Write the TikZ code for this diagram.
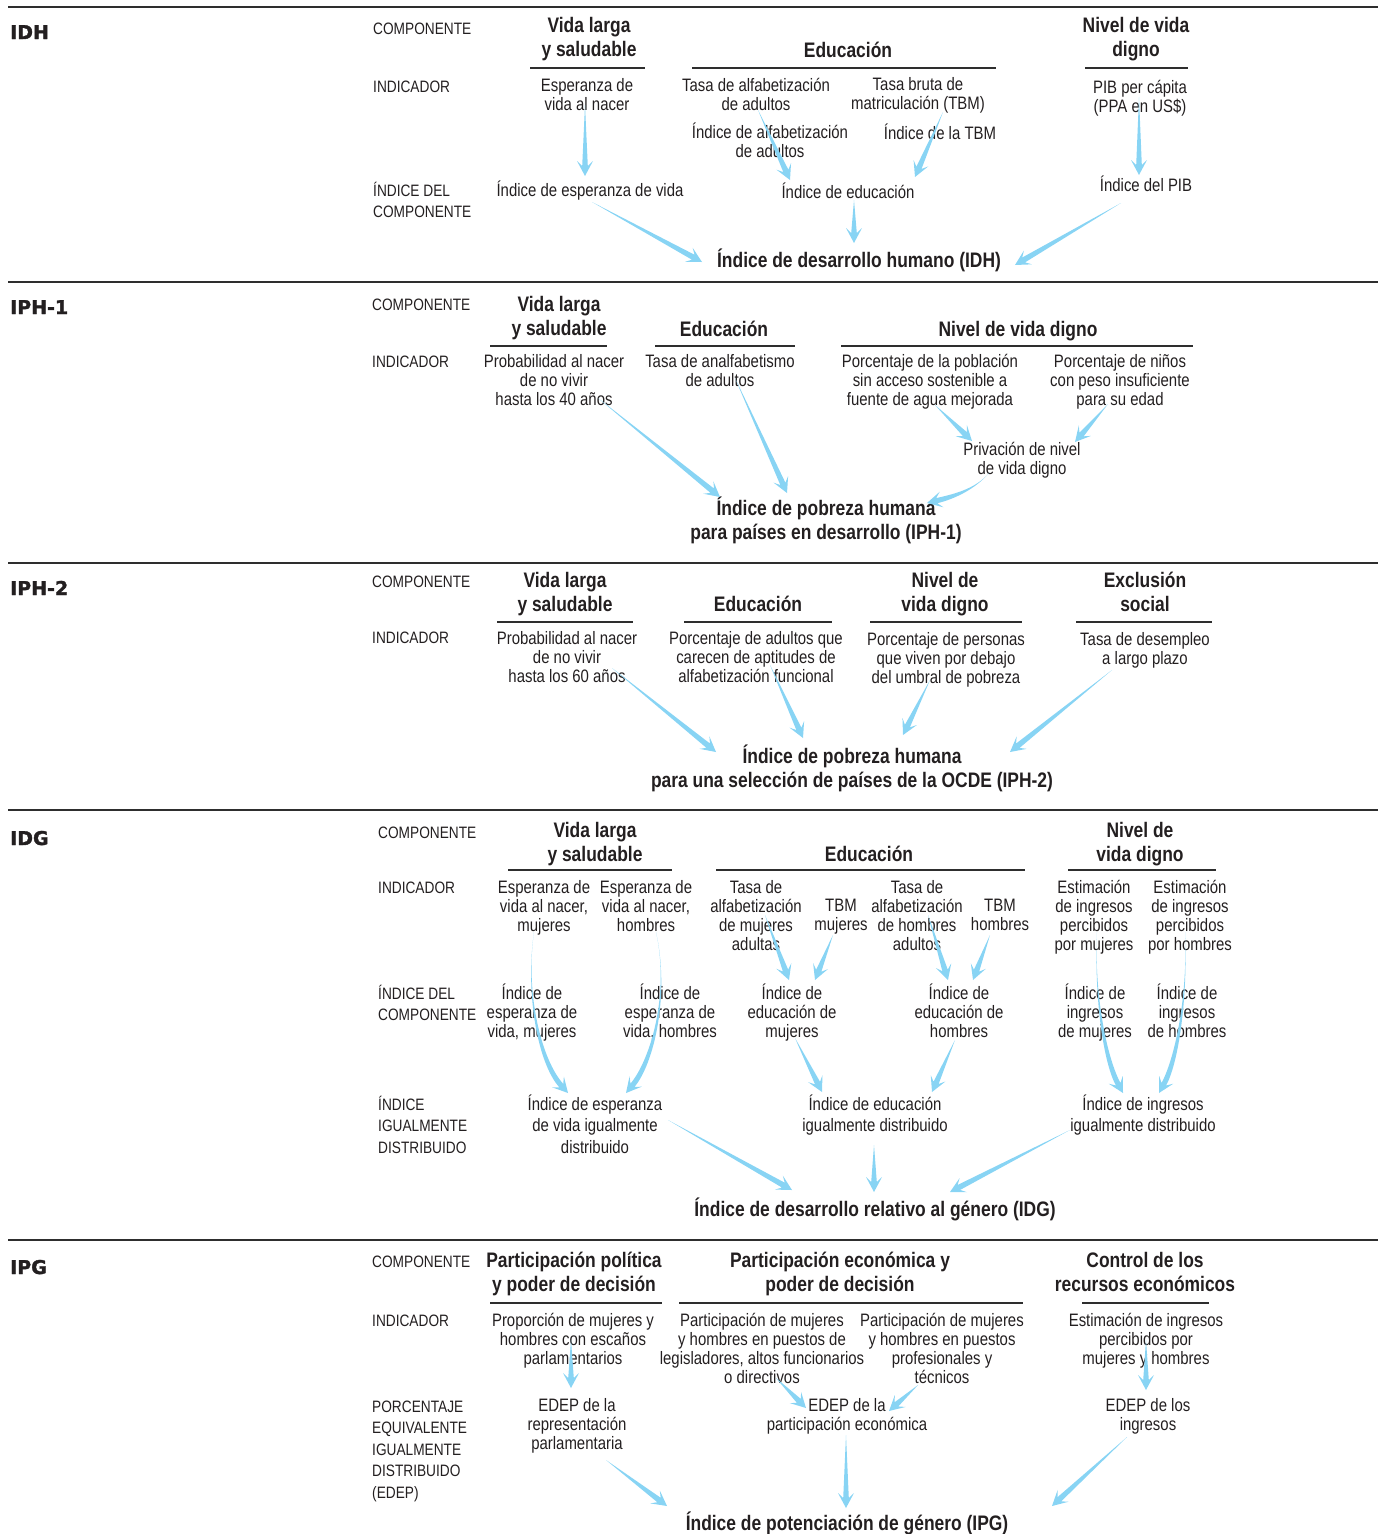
\documentclass[tikz,border=0pt]{standalone}
\usepackage{fontspec}
\setmainfont{Liberation Sans}[FakeStretch=0.83]
\newfontfamily\heavyfont{DejaVu Sans}[BoldFeatures={FakeBold=1.6}]
\usetikzlibrary{calc}
\definecolor{ink}{HTML}{231F20}
\definecolor{rulegray}{HTML}{2E2E2E}
\definecolor{arrowblue}{HTML}{88D4F4}
\newcommand\txtsize{\fontsize{18}{19}\selectfont}
\newcommand\hdrsize{\fontsize{21}{24}\selectfont\bfseries}
\newcommand\lblsize{\fontsize{16.5}{21.5}\selectfont}
\tikzset{
  sec/.style={anchor=base west, inner sep=0, text=ink, font=\heavyfont\bfseries\fontsize{19}{19}\selectfont},
  lbl/.style={anchor=base west, inner sep=0, align=left, text=ink, font=\lblsize},
  hdr/.style={anchor=base, inner sep=0, align=center, text=ink, font=\hdrsize},
  txt/.style={anchor=base, inner sep=0, align=center, text=ink, font=\txtsize},
  bigrule/.style={rulegray, line width=2.8pt},
  hrule/.style={rulegray, line width=1.2pt},
  flow/.style={fill=arrowblue, to path={(\tikztotarget) coordinate (ft) (\tikztostart) coordinate (fs)
    ($(ft)!10pt!(fs)$) coordinate (fh) ($(ft)!15pt!(fs)$) coordinate (fb)
    (fs) -- ($(fh)!2.8pt!90:(fs)$) -- ($(fb)!8pt!90:(fs)$) -- (ft)
    -- ($(fb)!8pt!-90:(fs)$) -- ($(fh)!2.8pt!-90:(fs)$) -- cycle}},
  cflow/.style 2 args={fill=arrowblue, to path={(\tikztotarget) coordinate (ft) (\tikztostart) coordinate (fs)
    ($(ft)!10pt!(#2)$) coordinate (fh) ($(ft)!15pt!(#2)$) coordinate (fb)
    (fs) .. controls (#1) and ($(#2)!2.6pt!-90:(ft)$) .. ($(fh)!2.6pt!90:(#2)$)
    -- ($(fb)!8pt!90:(#2)$) -- (ft) -- ($(fb)!8pt!-90:(#2)$) -- ($(fh)!2.6pt!-90:(#2)$)
    .. controls ($(#2)!2.6pt!90:(ft)$) and (#1) .. (fs) -- cycle}},
}
\begin{document}
\begin{tikzpicture}[x=1pt,y=-1pt]
\useasboundingbox (0,0) rectangle (1378,1534);

\draw[bigrule] (8,7) -- (1378,7);
\node[sec] (sIDH) at (10,39) {IDH};
\node[lbl] (lCompA) at (373,34) {COMPONENTE};
\node[lbl] (lIndA) at (373,92) {INDICADOR};
\node[lbl] (lIdxA) at (373,217.5) {ÍNDICE DEL\\COMPONENTE};
\node[hdr] (cVidaA) at (589,56) {Vida larga\\y saludable};
\node[hdr] (cEduA) at (848,57) {Educación};
\node[hdr] (cNivA) at (1136,56) {Nivel de vida\\digno};
\draw[hrule] (530,68) -- (645,68);
\draw[hrule] (692,68) -- (996,68);
\draw[hrule] (1085,68) -- (1188,68);
\node[txt] (iEspA) at (587,110) {Esperanza de\\vida al nacer};
\node[txt] (iAlfA) at (756,110) {Tasa de alfabetización\\de adultos};
\node[txt] (iTbmA) at (918,109) {Tasa bruta de\\matriculación (TBM)};
\node[txt] (iPibA) at (1140,112) {PIB per cápita\\(PPA en US\$)};
\node[txt] (xAlfA) at (770,157) {Índice de alfabetización\\de adultos};
\node[txt] (xTbmA) at (940,139) {Índice de la TBM};
\node[txt] (xEspA) at (590,196) {Índice de esperanza de vida};
\node[txt] (xEduA) at (848,198) {Índice de educación};
\node[txt] (xPibA) at (1146,191) {Índice del PIB};
\node[hdr] (rIDH) at (859,267) {Índice de desarrollo humano (IDH)};
\fill[flow] ($(iEspA.base)+(-2,-5)$) to ($(xEspA.base)+(-5,-20)$);
\fill[flow] ($(iAlfA.base)+(2,0)$) to ($(xEduA.base)+(-58,-18)$);
\fill[flow] ($(iTbmA.base)+(25,3)$) to ($(xEduA.base)+(67,-21)$);
\fill[flow] ($(xEduA.base)+(6,2)$) to ($(rIDH.base)+(-5,-24)$);
\fill[flow] ($(iPibA.base)+(-1,-15)$) to ($(xPibA.base)+(-7,-16)$);
\fill[flow] ($(xEspA.base)+(2,6)$) to ($(rIDH.base)+(-157,-5)$);
\fill[flow] ($(xPibA.base)+(-25,12)$) to ($(rIDH.base)+(156,-2)$);

\draw[bigrule] (8,282) -- (1378,282);
\node[sec] (sIPH1) at (10,314) {IPH-1};
\node[lbl] (lCompB) at (372,310) {COMPONENTE};
\node[lbl] (lIndB) at (372,367) {INDICADOR};
\node[hdr] (cVidaB) at (559,335) {Vida larga\\y saludable};
\node[hdr] (cEduB) at (724,336) {Educación};
\node[hdr] (cNivB) at (1018,336) {Nivel de vida digno};
\draw[hrule] (490,346) -- (607,346);
\draw[hrule] (655,346) -- (795,346);
\draw[hrule] (841,346) -- (1193,346);
\node[txt] (iProbB) at (554,405) {Probabilidad al nacer\\de no vivir\\hasta los 40 años};
\node[txt] (iAnaB) at (720,386) {Tasa de analfabetismo\\de adultos};
\node[txt] (iAguaB) at (930,405) {Porcentaje de la población\\sin acceso sostenible a\\fuente de agua mejorada};
\node[txt] (iNinB) at (1120,405) {Porcentaje de niños\\con peso insuficiente\\para su edad};
\node[txt] (xPrivB) at (1022,474) {Privación de nivel\\de vida digno};
\node[hdr] (rIPH1) at (826,539) {Índice de pobreza humana\\para países en desarrollo (IPH-1)};
\fill[flow] ($(iProbB.base)+(44,-7)$) to ($(rIPH1.base)+(-106,-42)$);
\fill[flow] ($(iAnaB.base)+(15,-8)$) to ($(rIPH1.base)+(-39,-46)$);
\fill[flow] ($(iAguaB.base)+(5,0)$) to ($(xPrivB.base)+(-50,-33)$);
\fill[flow] ($(iNinB.base)+(-12,-1)$) to ($(xPrivB.base)+(53,-32)$);
\fill[cflow={975,490}{952,497}] ($(xPrivB.base)+(-32,-2)$) to ($(rIPH1.base)+(101,-36)$);

\draw[bigrule] (8,563) -- (1378,563);
\node[sec] (sIPH2) at (10,595) {IPH-2};
\node[lbl] (lCompC) at (372,587) {COMPONENTE};
\node[lbl] (lIndC) at (372,643) {INDICADOR};
\node[hdr] (cVidaC) at (565,611) {Vida larga\\y saludable};
\node[hdr] (cEduC) at (758,611) {Educación};
\node[hdr] (cNivC) at (945,611) {Nivel de\\vida digno};
\node[hdr] (cExcC) at (1145,611) {Exclusión\\social};
\draw[hrule] (497,622) -- (633,622);
\draw[hrule] (684,622) -- (832,622);
\draw[hrule] (870,622) -- (1022,622);
\draw[hrule] (1076,622) -- (1212,622);
\node[txt] (iProbC) at (567,682) {Probabilidad al nacer\\de no vivir\\hasta los 60 años};
\node[txt] (iAdulC) at (756,682) {Porcentaje de adultos que\\carecen de aptitudes de\\alfabetización funcional};
\node[txt] (iPersC) at (946,683) {Porcentaje de personas\\que viven por debajo\\del umbral de pobreza};
\node[txt] (iDesC) at (1145,664) {Tasa de desempleo\\a largo plazo};
\node[hdr] (rIPH2) at (852,787) {Índice de pobreza humana\\para una selección de países de la OCDE (IPH-2)};
\fill[flow] ($(iProbC.base)+(45,-14)$) to ($(rIPH2.base)+(-136,-35)$);
\fill[flow] ($(iAdulC.base)+(14,-17)$) to ($(rIPH2.base)+(-49,-49)$);
\fill[flow] ($(iPersC.base)+(-16,-3)$) to ($(rIPH2.base)+(51,-52)$);
\fill[flow] ($(iDesC.base)+(-33,6)$) to ($(rIPH2.base)+(158,-35)$);

\draw[bigrule] (8,810) -- (1378,810);
\node[sec] (sIDG) at (10,845) {IDG};
\node[lbl] (lCompD) at (378,838) {COMPONENTE};
\node[lbl] (lIndD) at (378,893) {INDICADOR};
\node[lbl] (lIdxD) at (378,1020.5) {ÍNDICE DEL\\COMPONENTE};
\node[lbl] (lIguD) at (378,1153) {ÍNDICE\\IGUALMENTE\\DISTRIBUIDO};
\node[hdr] (cVidaD) at (595,861) {Vida larga\\y saludable};
\node[hdr] (cEduD) at (869,861) {Educación};
\node[hdr] (cNivD) at (1140,861) {Nivel de\\vida digno};
\draw[hrule] (508,870) -- (672,870);
\draw[hrule] (716,870) -- (1025,870);
\draw[hrule] (1068,870) -- (1216,870);
\node[txt] (iEspMD) at (544,931) {Esperanza de\\vida al nacer,\\mujeres};
\node[txt] (iEspHD) at (646,931) {Esperanza de\\vida al nacer,\\hombres};
\node[txt] (iAlfMD) at (756,950) {Tasa de\\alfabetización\\de mujeres\\adultas};
\node[txt] (iTbmMD) at (841,930) {TBM\\mujeres};
\node[txt] (iAlfHD) at (917,950) {Tasa de\\alfabetización\\de hombres\\adultos};
\node[txt] (iTbmHD) at (1000,930) {TBM\\hombres};
\node[txt] (iIngMD) at (1094,950) {Estimación\\de ingresos\\percibidos\\por mujeres};
\node[txt] (iIngHD) at (1190,950) {Estimación\\de ingresos\\percibidos\\por hombres};
\node[txt] (xEspMD) at (532,1037) {Índice de\\esperanza de\\vida, mujeres};
\node[txt] (xEspHD) at (670,1037) {Índice de\\esperanza de\\vida, hombres};
\node[txt] (xEduMD) at (792,1037) {Índice de\\educación de\\mujeres};
\node[txt] (xEduHD) at (959,1037) {Índice de\\educación de\\hombres};
\node[txt] (xIngMD) at (1095,1037) {Índice de\\ingresos\\de mujeres};
\node[txt] (xIngHD) at (1187,1037) {Índice de\\ingresos\\de hombres};
\node[txt, font=\fontsize{18}{21.5}\selectfont] (gEspD) at (595,1153) {Índice de esperanza\\de vida igualmente\\distribuido};
\node[txt, font=\fontsize{18}{21}\selectfont] (gEduD) at (875,1131) {Índice de educación\\igualmente distribuido};
\node[txt, font=\fontsize{18}{21}\selectfont] (gIngD) at (1143,1131) {Índice de ingresos\\igualmente distribuido};
\node[hdr] (rIDG) at (875,1216) {Índice de desarrollo relativo al género (IDG)};
\fill[cflow={525,995}{540,1062}] ($(iEspMD.base)+(-10,1)$) to ($(gEspD.base)+(-27,-60)$);
\fill[cflow={670,995}{652,1062}] ($(iEspHD.base)+(10,1)$) to ($(gEspD.base)+(31,-60)$);
\fill[flow] ($(iAlfMD.base)+(9,-35)$) to ($(xEduMD.base)+(-3,-57)$);
\fill[flow] ($(iTbmMD.base)+(-8,5)$) to ($(xEduMD.base)+(23,-57)$);
\fill[flow] ($(iAlfHD.base)+(11,-35)$) to ($(xEduHD.base)+(-11,-57)$);
\fill[flow] ($(iTbmHD.base)+(-10,5)$) to ($(xEduHD.base)+(14,-57)$);
\fill[flow] ($(xEduMD.base)+(3,1)$) to ($(gEduD.base)+(-53,-39)$);
\fill[flow] ($(xEduHD.base)+(-4,3)$) to ($(gEduD.base)+(57,-39)$);
\fill[cflow={1094,1000}{1106,1062}] ($(iIngMD.base)+(3,-18)$) to ($(gIngD.base)+(-20,-38)$);
\fill[cflow={1188,1000}{1176,1062}] ($(iIngHD.base)+(-5,-18)$) to ($(gIngD.base)+(16,-38)$);
\fill[flow] ($(gEspD.base)+(73,-33)$) to ($(rIDG.base)+(-83,-26)$);
\fill[flow] ($(gEduD.base)+(-1,14)$) to ($(rIDG.base)+(-1,-24)$);
\fill[flow] ($(gIngD.base)+(-73,-1)$) to ($(rIDG.base)+(75,-24)$);

\draw[bigrule] (8,1240) -- (1378,1240);
\node[sec] (sIPG) at (10,1274) {IPG};
\node[lbl] (lCompE) at (372,1267) {COMPONENTE};
\node[lbl] (lIndE) at (372,1326) {INDICADOR};
\node[lbl] (lPorE) at (372,1498) {PORCENTAJE\\EQUIVALENTE\\IGUALMENTE\\DISTRIBUIDO\\(EDEP)};
\node[hdr] (cPolE) at (574,1291) {Participación política\\y poder de decisión};
\node[hdr] (cEcoE) at (840,1291) {Participación económica y\\poder de decisión};
\node[hdr] (cConE) at (1145,1291) {Control de los\\recursos económicos};
\draw[hrule] (490,1303) -- (662,1303);
\draw[hrule] (679,1303) -- (1023,1303);
\draw[hrule] (1082,1303) -- (1209,1303);
\node[txt] (iPropE) at (573,1364) {Proporción de mujeres y\\hombres con escaños\\parlamentarios};
\node[txt] (iLegE) at (762,1383) {Participación de mujeres\\y hombres en puestos de\\legisladores, altos funcionarios\\o directivos};
\node[txt] (iProfE) at (942,1383) {Participación de mujeres\\y hombres en puestos\\profesionales y\\técnicos};
\node[txt] (iEstE) at (1146,1364) {Estimación de ingresos\\percibidos por\\mujeres y hombres};
\node[txt] (xRepE) at (577,1449) {EDEP de la\\representación\\parlamentaria};
\node[txt] (xEcoE) at (847,1430) {EDEP de la\\participación económica};
\node[txt] (xIngE) at (1148,1430) {EDEP de los\\ingresos};
\node[hdr] (rIPG) at (847,1530) {Índice de potenciación de género (IPG)};
\fill[flow] ($(iPropE.base)+(-2,-24)$) to ($(xRepE.base)+(-6,-61)$);
\fill[flow] ($(iLegE.base)+(14,-5)$) to ($(xEcoE.base)+(-41,-22)$);
\fill[flow] ($(iProfE.base)+(-24,2)$) to ($(xEcoE.base)+(42,-19)$);
\fill[flow] ($(iEstE.base)+(0,-24)$) to ($(xIngE.base)+(-2,-40)$);
\fill[flow] ($(xRepE.base)+(29,11)$) to ($(rIPG.base)+(-180,-24)$);
\fill[flow] ($(xEcoE.base)+(-1,5)$) to ($(rIPG.base)+(-1,-22)$);
\fill[flow] ($(xIngE.base)+(-21,7)$) to ($(rIPG.base)+(205,-24)$);
\end{tikzpicture}
\end{document}
